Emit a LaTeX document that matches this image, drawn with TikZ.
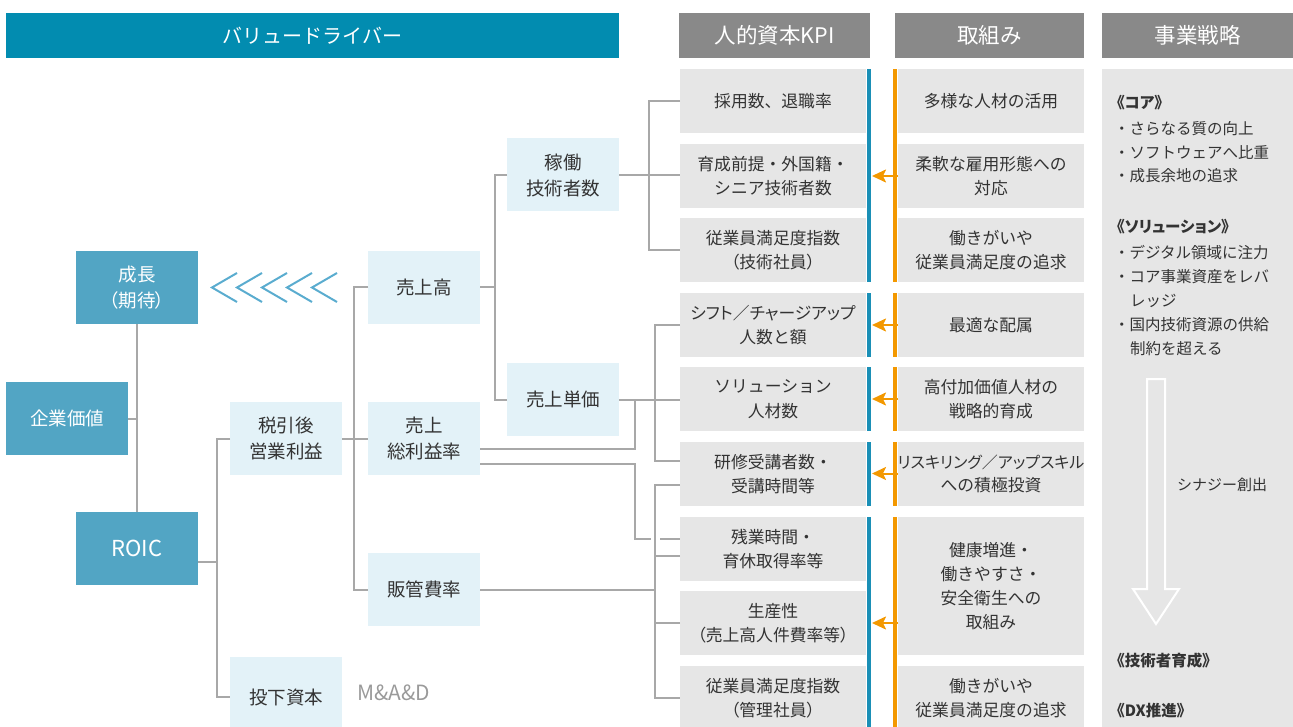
\documentclass[tikz,border=0pt]{standalone}
\usepackage{fontspec}
\setmainfont{Noto Sans CJK JP}
\newfontfamily\jpp[RawFeature=+palt]{Noto Sans CJK JP}
\usetikzlibrary{arrows.meta,calc}
\definecolor{vblue}{HTML}{028CB0}
\definecolor{mblue}{HTML}{52A5C4}
\definecolor{lblue}{HTML}{E3F2F8}
\definecolor{hgray}{HTML}{898989}
\definecolor{bgray}{HTML}{E6E6E6}
\definecolor{bblue}{HTML}{1A8FB6}
\definecolor{orng}{HTML}{F39800}
\definecolor{cgray}{HTML}{A8A8A8}
\definecolor{chevc}{HTML}{5AACCF}
\definecolor{txt}{HTML}{333333}
\definecolor{mgray}{HTML}{9A9A9A}
\begin{document}
\begin{tikzpicture}[x=1pt,y=-1pt,
  box/.style={rectangle, inner sep=0pt, outer sep=0pt, align=center, text=txt},
  hdr/.style={box, fill=hgray, text=white, font=\fontsize{21.5}{24}\selectfont, minimum height=45pt},
  lb/.style={box, fill=lblue, font=\fontsize{18.5}{26}\selectfont, minimum width=112pt, minimum height=73pt},
  mb/.style={box, fill=mblue, text=white, font=\fontsize{18.5}{26}\selectfont, minimum width=122pt, minimum height=73pt},
  kpi/.style={box, fill=bgray, font=\fontsize{16.8}{24.5}\selectfont, minimum width=186pt, minimum height=64pt},
  conn/.style={draw=cgray, line width=2pt},
  oarr/.style={draw=orng, line width=2pt, -{Stealth[length=14pt,width=13pt,inset=3pt]}, shorten >=6pt},
  chev/.style={draw=chevc, line width=2pt},
  ptxt/.style={anchor=west, inner sep=0pt, outer sep=0pt, font=\fontsize{15.5}{24}\selectfont, text=txt},
  ptxtb/.style={ptxt, font=\fontsize{15.5}{24}\selectfont\jpp\bfseries}
]
\useasboundingbox (0,0) rectangle (1293,727);

% headers
\node[box, fill=vblue, text=white, font=\fontsize{20}{24}\selectfont, minimum width=613pt, minimum height=45pt] (vd) at (312.5,35.5) {バリュードライバー};
\node[hdr, minimum width=191pt] (kpiH) at (774.5,35.5) {人的資本KPI};
\node[hdr, minimum width=189pt] (torH) at (989.5,35.5) {取組み};
\node[hdr, minimum width=191pt] (senH) at (1197.5,35.5) {事業戦略};

% value driver tree
\node[mb] (seicho) at (137,287.5) {成長\\{\jpp（期待）}};
\node[mb] (kigyo) at (67,418.5) {企業価値};
\node[mb, font=\fontsize{22}{26}\selectfont] (roic) at (137,548.5) {ROIC};
\node[lb] (zeibiki) at (286,438.5) {税引後\\営業利益};
\node[lb, minimum height=80pt] (toka) at (286,697) {投下資本};
\node[box, anchor=west, text=mgray, font=\fontsize{21}{24}\selectfont] (mad) at (357,693) {M\&A\&D};
\node[lb] (uriage) at (424,287.5) {売上高};
\node[lb] (sorieki) at (424,438.5) {売上\\総利益率};
\node[lb] (hankan) at (424,589.5) {販管費率};
\node[lb] (kado) at (563,175) {稼働\\技術者数};
\node[lb] (tanka) at (563,399.5) {売上単価};

% chevrons
\foreach \i in {0,...,4}
  \draw[chev] ({237+25*\i},273) -- ({212+25*\i},287.5) -- ({237+25*\i},302);

% KPI boxes
\node[kpi] (k1) at (773,101) {採用数、退職率};
\node[kpi] (k2) at (773,176) {育成前提・外国籍・\\シニア技術者数};
\node[kpi] (k3) at (773,250) {従業員満足度指数\\{\jpp（技術社員）}};
\node[kpi] (k4) at (773,325) {{\jpp シフト／チャージアップ}\\人数と額};
\node[kpi] (k5) at (773,399) {ソリューション\\人材数};
\node[kpi] (k6) at (773,474) {研修受講者数・\\受講時間等};
\node[kpi] (k7) at (773,549) {残業時間・\\育休取得率等};
\node[kpi] (k8) at (773,623) {生産性\\{\jpp（売上高人件費率等）}};
\node[kpi] (k9) at (773,698) {従業員満足度指数\\{\jpp（管理社員）}};

% initiative boxes
\node[kpi] (t1) at (991,101) {多様な人材の活用};
\node[kpi] (t2) at (991,176) {柔軟な雇用形態への\\対応};
\node[kpi] (t3) at (991,250) {働きがいや\\従業員満足度の追求};
\node[kpi] (t4) at (991,325) {最適な配属};
\node[kpi] (t5) at (991,399) {高付加価値人材の\\戦略的育成};
\node[kpi, font=\fontsize{16.8}{23}\selectfont] (t6) at (991,474) {{\jpp\fontsize{16}{23}\selectfont リスキリング／アップスキル}\\への積極投資};
\node[kpi, minimum height=138pt, font=\fontsize{16.8}{24}\selectfont] (t78) at (991,586) {健康増進・\\働きやすさ・\\安全衛生への\\取組み};
\node[kpi] (t9) at (991,698) {働きがいや\\従業員満足度の追求};

% connectors
\draw[conn] (seicho.south) -- (roic.north);
\draw[conn] (kigyo.east) -- (kigyo.east -| seicho.south);
\draw[conn] (roic.east |- 0,562) -- (217,562);
\draw[conn] (zeibiki.west) -- ++(-13,0) |- (toka.west);
\draw[conn] (zeibiki.east) -- (sorieki.west);
\draw[conn] (uriage.west) -- ++(-14,0) |- (hankan.west);
\draw[conn] (uriage.east) -- (uriage.east -| 495,0);
\draw[conn] (kado.west) -- ++(-12,0) |- (tanka.west);
\draw[conn] (kado.east) -- (kado.east -| k2.west);
\draw[conn] (k1.west) -- ++(-31,0) |- (k3.west);
\draw[conn] (tanka.east) -- (tanka.east -| k5.west);
\draw[conn] (k4.west) -- ++(-25,0) |- ($(k6.west)+(0,-13)$);
\draw[conn] (sorieki.east |- 0,449) -| (635,399.5);
\draw[conn] (sorieki.east |- 0,464) -| (635,539) -- (651,539);
\draw[conn] (660,539) -- (k7.west |- 0,539);
\draw[conn] (hankan.east) -- (hankan.east -| 655,0);
\draw[conn] ($(k6.west)+(0,11)$) -- ++(-25,0) |- (k9.west);
\draw[conn] (k7.west |- 0,556) -- ++(-25,0);
\draw[conn] (k8.west) -- ++(-25,0);

% arrows
\draw[oarr] (t2.west |- k2.east) -- (k2.east);
\draw[oarr] (t4.west |- k4.east) -- (k4.east);
\draw[oarr] (t5.west |- k5.east) -- (k5.east);
\draw[oarr] ($(t6.west |- k6.east)+(0,-0.5)$) -- ($(k6.east)+(0,-0.5)$);
\draw[oarr] (t78.west |- k8.east) -- (k8.east);

% bars
\foreach \a/\b in {69/282, 293/357, 367/431, 442/506, 517/730} {
  \fill[bblue] (867,\a) rectangle (871,\b);
  \fill[orng] (893,\a) rectangle (897,\b);
}

% strategy panel
\fill[bgray] (1102,69) rectangle (1293,730);
\node[ptxtb] (p1) at (1117,103) {《コア》};
\node[ptxt] (p2) at (1114,129) {・さらなる質の向上};
\node[ptxt] (p3) at (1114,152) {・ソフトウェアへ比重};
\node[ptxt] (p4) at (1114,176) {・成長余地の追求};
\node[ptxtb] (p5) at (1117,227) {《ソリューション》};
\node[ptxt] (p6) at (1114,253) {・デジタル領域に注力};
\node[ptxt] (p7) at (1114,277) {・コア事業資産をレバ};
\node[ptxt] (p8) at (1130,301) {レッジ};
\node[ptxt] (p9) at (1114,325) {・国内技術資源の供給};
\node[ptxt] (p10) at (1130,349) {制約を超える};
\draw[white, line width=2pt, line join=miter] (1147,379) -- (1165,379) -- (1165,589) -- (1179,589) -- (1156,624) -- (1133,589) -- (1147,589) -- cycle;
\node[ptxt, font=\fontsize{15}{24}\selectfont] (syn) at (1177,485) {シナジー創出};
\node[ptxtb] (p11) at (1117,661) {《技術者育成》};
\node[ptxtb] (p12) at (1117,711) {《DX推進》};
\end{tikzpicture}
\end{document}
